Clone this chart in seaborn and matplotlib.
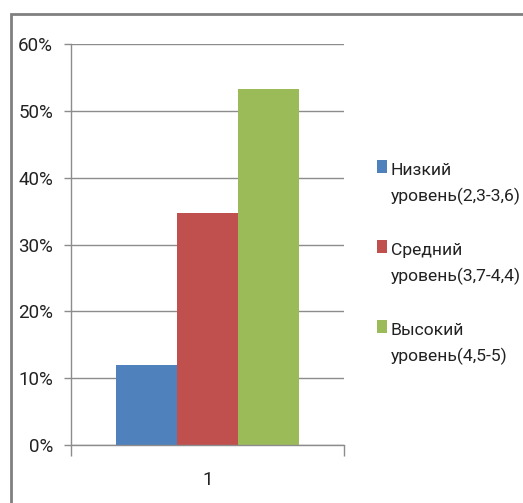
import matplotlib
matplotlib.use("Agg")
import pandas as pd
import seaborn as sns
import matplotlib.pyplot as plt
from matplotlib.patches import Rectangle, Patch
from matplotlib.legend_handler import HandlerPatch
from matplotlib.ticker import PercentFormatter

# values
categories = ['1', '1', '1']
levels = ['Низкий\nуровень(2,3-3,6)', 'Средний\nуровень(3,7-4,4)', 'Высокий\nуровень(4,5-5)']
shares = [0.12, 0.347, 0.533]
colors = ['#4F81BD', '#C0504D', '#9BBB59']

df = pd.DataFrame({'group': categories, 'level': levels, 'share': shares})

sns.set_style('white')
plt.rcParams['font.family'] = ['Roboto', 'DejaVu Sans']
fs = 13.5
legend_fs = 12.6

fig = plt.figure(figsize=(5.23, 5.03), dpi=100)
ax = fig.add_axes([71 / 523, 1 - 445 / 503, 273 / 523, 401 / 503])

sns.barplot(data=df, x='group', y='share', hue='level', palette=colors,
            width=0.667, saturation=1, ax=ax, legend=False, linewidth=0)

ax.set_ylim(0, 0.6)
ax.set_xlim(-0.5, 0.5)
ax.set_yticks([0, 0.1, 0.2, 0.3, 0.4, 0.5, 0.6])
ax.yaxis.set_major_formatter(PercentFormatter(1.0, decimals=0))
ax.yaxis.grid(True, color='#8c8c8c', linewidth=1)
ax.set_axisbelow(True)
ax.tick_params(axis='y', left=True, length=5, color='#8c8c8c', width=1,
               labelsize=fs, labelcolor='#222222', pad=8)
ax.set_xticks([0])
ax.set_xticklabels(['1'])
ax.set_xticks([-0.5, 0.5], minor=True)
ax.tick_params(axis='x', which='major', length=0, labelsize=fs, labelcolor='#222222', pad=19)
ax.tick_params(axis='x', which='minor', bottom=True, length=8, color='#8c8c8c', width=1)
ax.set_xlabel('')
ax.set_ylabel('')
for side in ['top', 'right']:
    ax.spines[side].set_visible(False)
for side in ['left', 'bottom']:
    ax.spines[side].set_color('#8c8c8c')
    ax.spines[side].set_linewidth(1)


# square next to the first line of each two-line label, as in Excel
def top_square(legend, orig_handle, xdescent, ydescent, width, height, fontsize):
    return Rectangle((-xdescent, -ydescent + 1.0 * fontsize), width, height)


handles = [Patch(facecolor=c, edgecolor='none') for c in colors]
leg = fig.legend(handles, levels, loc='upper left', bbox_to_anchor=(377 / 523, 1 - 163 / 503),
                 frameon=False, fontsize=legend_fs, handlelength=0.55, handleheight=0.7,
                 handletextpad=0.25, labelspacing=2.15, borderpad=0, borderaxespad=0,
                 labelcolor='#222222',
                 handler_map={Patch: HandlerPatch(patch_func=top_square)})
for t in leg.get_texts():
    t.set_linespacing(1.75)

# outer chart frame
fig.add_artist(Rectangle((11 / 523, -0.1), 1.0, 1.1 - 14 / 503, transform=fig.transFigure,
                         fill=False, edgecolor='#808080', linewidth=2))

fig.savefig('out.png', dpi=100)
